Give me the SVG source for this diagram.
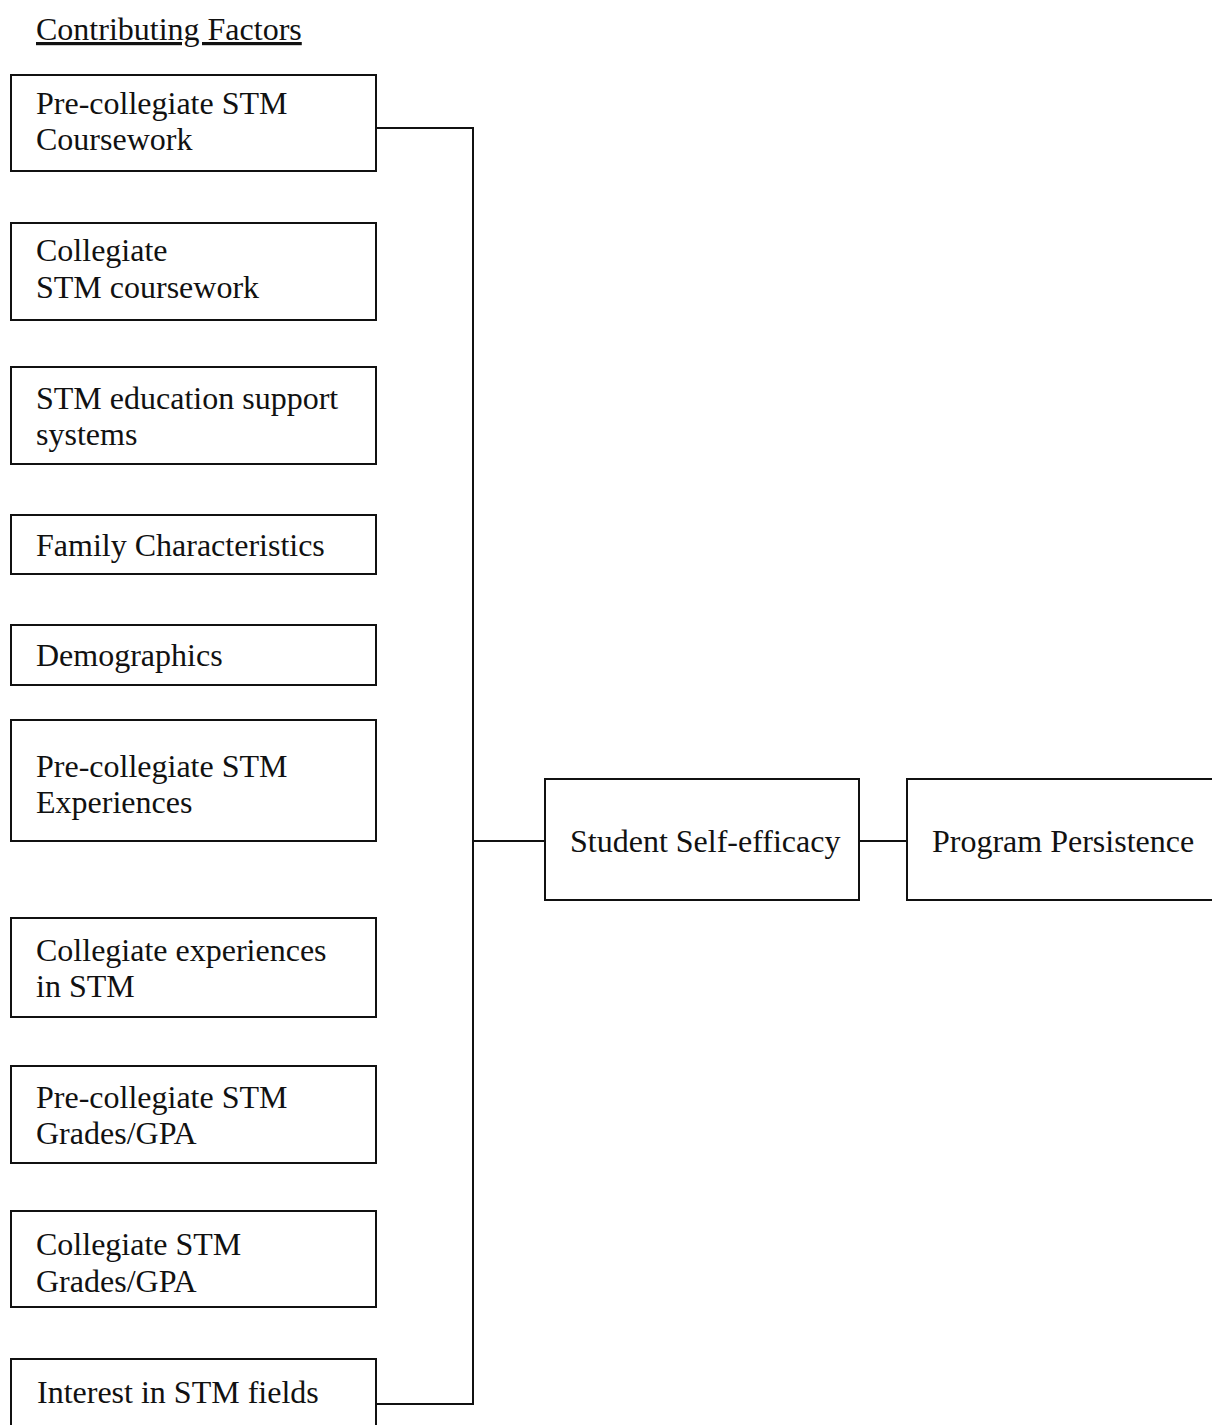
<svg xmlns="http://www.w3.org/2000/svg" width="1212" height="1425" viewBox="0 0 1212 1425">
<style>
.b{fill:#fff;stroke:#111;stroke-width:2}
.t{font-family:"Liberation Serif","Times New Roman",serif;font-size:32px;fill:#111}
.c{fill:none;stroke:#111;stroke-width:2}
</style>
<rect width="1212" height="1425" fill="#fff"/>
<text class="t" x="36" y="40" text-decoration="underline">Contributing Factors</text>
<g id="n1"><rect class="b" x="11" y="75" width="365" height="96"/><text class="t" x="36" y="114">Pre-collegiate STM</text><text class="t" x="36" y="150">Coursework</text></g>
<g id="n2"><rect class="b" x="11" y="223" width="365" height="97"/><text class="t" x="36" y="261">Collegiate</text><text class="t" x="36" y="298">STM coursework</text></g>
<g id="n3"><rect class="b" x="11" y="367" width="365" height="97"/><text class="t" x="36" y="409">STM education support</text><text class="t" x="36" y="445">systems</text></g>
<g id="n4"><rect class="b" x="11" y="515" width="365" height="59"/><text class="t" x="36" y="556">Family Characteristics</text></g>
<g id="n5"><rect class="b" x="11" y="625" width="365" height="60"/><text class="t" x="36" y="666">Demographics</text></g>
<g id="n6"><rect class="b" x="11" y="720" width="365" height="121"/><text class="t" x="36" y="777">Pre-collegiate STM</text><text class="t" x="36" y="813">Experiences</text></g>
<g id="n7"><rect class="b" x="11" y="918" width="365" height="99"/><text class="t" x="36" y="961">Collegiate experiences</text><text class="t" x="36" y="997">in STM</text></g>
<g id="n8"><rect class="b" x="11" y="1066" width="365" height="97"/><text class="t" x="36" y="1108">Pre-collegiate STM</text><text class="t" x="36" y="1144">Grades/GPA</text></g>
<g id="n9"><rect class="b" x="11" y="1211" width="365" height="96"/><text class="t" x="36" y="1255">Collegiate STM</text><text class="t" x="36" y="1292">Grades/GPA</text></g>
<g id="n10"><rect class="b" x="11" y="1359" width="365" height="80"/><text class="t" x="37" y="1403">Interest in STM fields</text></g>
<g id="n11"><rect class="b" x="545" y="779" width="314" height="121"/><text class="t" x="570" y="852">Student Self-efficacy</text></g>
<g id="n12"><rect class="b" x="907" y="779" width="320" height="121"/><text class="t" x="932" y="852">Program Persistence</text></g>
<g id="connectors">
<path class="c" d="M376 128 H473 V1404 H376"/>
<path class="c" d="M473 841 H545"/>
<path class="c" d="M859 841 H907"/>
</g>
</svg>
